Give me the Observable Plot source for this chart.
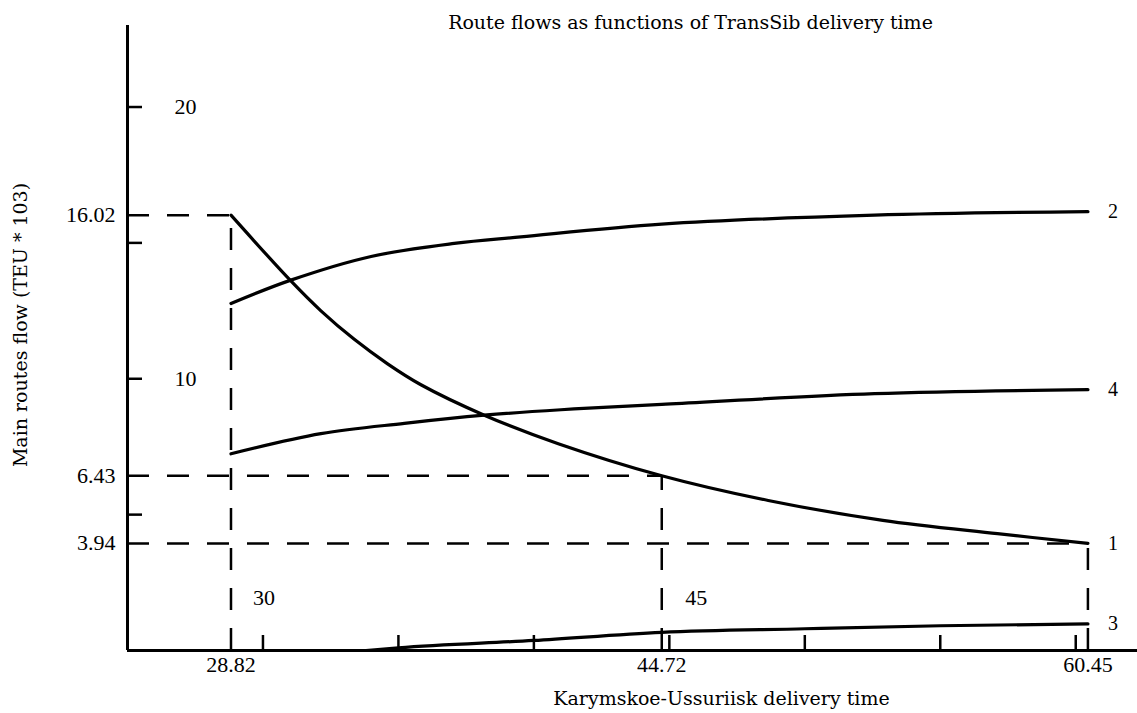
<!DOCTYPE html>
<html><head><meta charset="utf-8">
<script src="https://cdn.jsdelivr.net/npm/d3@7"></script>
<script src="https://cdn.jsdelivr.net/npm/@observablehq/plot@0.6"></script>
<style>body{margin:0;background:#fff} svg{display:block}</style>
</head><body><div id="chart"></div>
<script>
const title = "Route flows as functions of TransSib delivery time";
const xLabel = "Karymskoe-Ussuriisk delivery time";
const yLabel = "Main routes flow (TEU * 103)";

// Route flows (x = TransSib delivery time, y = flow, TEU * 10^3)
const route1 = [[28.82,16.02],[31.03,13.60],[32.14,12.50],[33.37,11.45],[34.60,10.55],[35.83,9.78],[38.17,8.66],[40.90,7.61],[44.72,6.43],[48.65,5.52],[52.88,4.79],[57.11,4.30],[60.45,3.94]];
const route2 = [[28.82,12.77],[31.03,13.63],[33.99,14.50],[37.06,14.98],[39.52,15.22],[44.72,15.69],[52.57,16.02],[60.45,16.15]];
const route3 = [[33.8,0.00],[35.0,0.10],[40.0,0.37],[44.72,0.67],[50.0,0.80],[55.0,0.91],[60.45,0.98]];
const route4 = [[28.82,7.24],[32.14,7.98],[35.22,8.36],[38.17,8.66],[41.0,8.86],[44.72,9.06],[52.57,9.45],[60.45,9.60]];
const routeNames = ["1","2","3","4"];

const keyPoints = [[28.82,16.02],[44.72,6.43],[60.45,3.94]];
const xTicks = [30,35,40,45,50,55,60];
const yTicks = [5,10,15,20];
const yInnerLabels = [20,10];
const xInnerLabelA = [30];
const xInnerLabelB = [45];
const xDomain = [25, 62.28];
const yDomain = [0, 23];

const rows = [route1, route2, route3, route4].flatMap((r, i) =>
  r.map(([x, y]) => ({route: routeNames[i], x, y})));

const numFont = "'Liberation Serif', serif";
const textFont = "'DejaVu Serif', serif";

const chart = Plot.plot({
  width: 1137, height: 713,
  marginLeft: 127, marginRight: 0, marginTop: 25, marginBottom: 63,
  x: {domain: xDomain}, y: {domain: yDomain},
  style: {fontFamily: numFont, fontSize: "22px", color: "#000", background: "#fff"},
  marks: [
    Plot.ruleY(keyPoints, {y: d => d[1], x1: xDomain[0], x2: d => d[0], strokeDasharray: "22,18", strokeWidth: 2.5}),
    Plot.ruleX(keyPoints, {x: d => d[0], y1: yDomain[0], y2: d => d[1], strokeDasharray: "22,18", strokeWidth: 2.5}),
    Plot.line(rows.filter(d => d.route !== "3"), {x: "x", y: "y", z: "route", stroke: "#000", strokeWidth: 3.2, curve: "catmull-rom"}),
    Plot.line(rows.filter(d => d.route === "3"), {x: "x", y: "y", stroke: "#000", strokeWidth: 3.2, curve: "monotone-x"}),
    Plot.ruleX([xDomain[0]], {strokeWidth: 3}),
    Plot.ruleY([yDomain[0]], {strokeWidth: 3}),
    Plot.axisX({ticks: xTicks, tickSize: -15, tickFormat: () => "", strokeWidth: 2.5, label: null}),
    Plot.axisY({ticks: yTicks, tickSize: -15, tickFormat: () => "", strokeWidth: 2.5, label: null}),
    Plot.text(rows, Plot.selectLast({x: "x", y: "y", z: "route", text: "route", dx: 25, fontSize: 20})),
    Plot.text(keyPoints, {y: d => d[1], text: d => d[1].toFixed(2), frameAnchor: "left", dx: -12, textAnchor: "end"}),
    Plot.text(keyPoints, {x: d => d[0], text: d => d[0].toFixed(2), frameAnchor: "bottom", lineAnchor: "middle", dy: 14}),
    Plot.text(yInnerLabels, {y: d => d, text: d => String(d), frameAnchor: "left", dx: 47, textAnchor: "start"}),
    Plot.text(xInnerLabelA, {x: d => d, text: d => String(d), frameAnchor: "bottom", lineAnchor: "middle", dy: -53, dx: -10, textAnchor: "start"}),
    Plot.text(xInnerLabelB, {x: d => d, text: d => String(d), frameAnchor: "bottom", lineAnchor: "middle", dy: -53, dx: 16, textAnchor: "start"}),
    Plot.text([title], {text: d => d, frameAnchor: "top", lineAnchor: "middle", dx: 58, dy: -3, fontFamily: textFont, fontSize: 19}),
    Plot.text([xLabel], {text: d => d, frameAnchor: "bottom", lineAnchor: "middle", dx: 89, dy: 48, fontFamily: textFont, fontSize: 19}),
    Plot.text([yLabel], {text: d => d, frameAnchor: "left", textAnchor: "middle", rotate: -90, dx: -107, dy: -13, fontFamily: textFont, fontSize: 19})
  ]
});
document.getElementById("chart").append(chart);
</script>
</body></html>
